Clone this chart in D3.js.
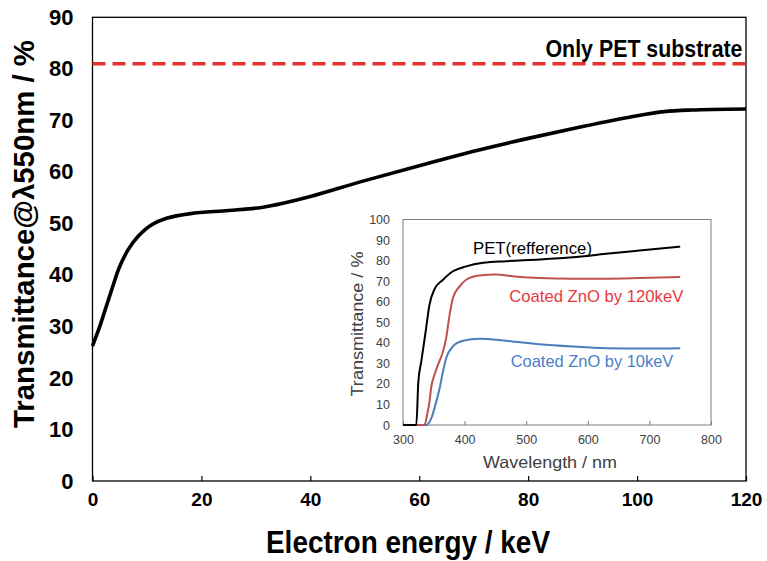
<!DOCTYPE html>
<html><head><meta charset="utf-8">
<script src="https://cdn.jsdelivr.net/npm/d3@7"></script>
<style>body{margin:0;background:#fff}svg{display:block}</style>
</head><body>
<svg id="c" width="767" height="561"></svg>
<script>
// ---- main chart data ----
const energyKeV = [0, 1.3, 2.5, 3.7, 4.9, 6.5, 8.3, 10.8, 13.6, 18, 25, 31, 35, 40, 50, 60, 70, 80, 90, 100, 105, 110, 120];
const transmittance550 = [26.2, 29.9, 33.8, 37.7, 41.4, 44.8, 47.4, 49.7, 51, 51.9, 52.5, 53.1, 53.9, 55.2, 58.3, 61.2, 64, 66.5, 68.8, 70.9, 71.7, 72, 72.2];
const petSubstrateLevel = 81;
const mainXTicks = [0, 20, 40, 60, 80, 100, 120];
const mainYTicks = [0, 10, 20, 30, 40, 50, 60, 70, 80, 90];

// ---- inset data ----
const wlPET = [300, 320, 321.6, 324.9, 329.7, 336.8, 343, 351, 365, 381, 402.7, 430, 467.6, 521.6, 575.7, 629.7, 683.8, 750];
const tPET  = [0, 0, 0, 21, 31, 45.5, 58.5, 66, 70.7, 74.8, 77.2, 78.9, 79.7, 80.5, 81.6, 83.3, 84.9, 86.8];
const wl120 = [300, 335, 339, 343, 346, 351, 356.8, 364.9, 370, 375.7, 381, 392, 402.7, 424, 451, 478, 521.6, 575.7, 629.7, 683.8, 750];
const t120  = [0, 0, 4.9, 11.4, 18.7, 24.4, 29.3, 35.8, 42.3, 53.7, 61.8, 67.5, 70.7, 72.8, 73.2, 72.4, 71.5, 71.2, 71.2, 71.5, 72];
const wl10  = [300, 337.8, 346, 351, 359.5, 364.9, 370, 381, 397.3, 424.3, 467.6, 521.6, 575.7, 629.7, 683.8, 750];
const t10   = [0, 0, 3.3, 8.1, 17.9, 26, 32.5, 38.2, 41, 42, 41, 39.3, 38.2, 37.4, 37.2, 37.4];
const insetXTicks = [300, 400, 500, 600, 700, 800];
const insetYTicks = [0, 10, 20, 30, 40, 50, 60, 70, 80, 90, 100];

const svg = d3.select("#c");
const x = d3.scaleLinear().domain([0, 120]).range([92.5, 746]);
const y = d3.scaleLinear().domain([0, 90]).range([481, 17.3]);

// frame
svg.append("rect").attr("x", x(0)).attr("y", y(90)).attr("width", x(120) - x(0)).attr("height", y(0) - y(90))
  .attr("fill", "none").attr("stroke", "#000").attr("stroke-width", 1.3);

// x axis ticks (inner) and labels
const xAxis = d3.axisBottom(x).tickValues(mainXTicks).tickSizeInner(-5).tickSizeOuter(0).tickPadding(12);
const gx = svg.append("g").attr("transform", `translate(0,${y(0)})`).call(xAxis);
gx.select(".domain").remove();
gx.selectAll(".tick line").attr("stroke", "#000").attr("stroke-width", 1.2);
gx.selectAll(".tick text").attr("font-family", "'Liberation Sans', Arial, sans-serif").attr("font-weight", "bold")
  .attr("font-size", 19).attr("fill", "#000").attr("dy", "0.71em");

const yAxis = d3.axisLeft(y).tickValues(mainYTicks).tickSize(0).tickPadding(19);
const gy = svg.append("g").attr("transform", `translate(${x(0)},0)`).call(yAxis);
gy.select(".domain").remove();
gy.selectAll(".tick text").attr("font-family", "'Liberation Sans', Arial, sans-serif").attr("font-weight", "bold")
  .attr("font-size", 22).attr("fill", "#000");

// dashed PET line
svg.append("line").attr("x1", x(0)).attr("x2", x(120)).attr("y1", y(petSubstrateLevel)).attr("y2", y(petSubstrateLevel))
  .attr("stroke", "#e8322f").attr("stroke-width", 3.5).attr("stroke-dasharray", "13,7");
svg.append("text").attr("x", 742.5).attr("y", 56.5).attr("text-anchor", "end")
  .attr("font-family", "'Liberation Sans Narrow', 'Liberation Sans', sans-serif").attr("font-weight", "bold")
  .attr("font-size", 24).attr("textLength", 197).attr("lengthAdjust", "spacingAndGlyphs").text("Only PET substrate");

// main curve
const mainLine = d3.line().x((d, i) => x(energyKeV[i])).y(d => y(d)).curve(d3.curveCatmullRom.alpha(0.5));
svg.append("path").datum(transmittance550).attr("d", mainLine).attr("fill", "none")
  .attr("stroke", "#000").attr("stroke-width", 3.6).attr("stroke-linejoin", "round");

// axis titles
svg.append("text").attr("x", 408).attr("y", 553).attr("text-anchor", "middle")
  .attr("font-family", "'Liberation Sans Narrow', 'Liberation Sans', sans-serif").attr("font-weight", "bold")
  .attr("font-size", 32).attr("textLength", 284).attr("lengthAdjust", "spacingAndGlyphs").text("Electron energy / keV");
svg.append("text").attr("transform", "translate(34,234) rotate(-90)").attr("text-anchor", "middle")
  .attr("font-family", "'Liberation Sans', Arial, sans-serif").attr("font-weight", "bold")
  .attr("font-size", 29).attr("textLength", 388).attr("lengthAdjust", "spacingAndGlyphs").text("Transmittance@λ550nm / %");

// ---- inset ----
const ix = d3.scaleLinear().domain([300, 800]).range([403, 711]);
const iy = d3.scaleLinear().domain([0, 100]).range([425, 219.5]);
const ins = svg.append("g");
ins.append("rect").attr("x", ix(300)).attr("y", iy(100)).attr("width", ix(800) - ix(300)).attr("height", iy(0) - iy(100))
  .attr("fill", "#fff").attr("stroke", "#7f7f7f").attr("stroke-width", 1);

const ixAxis = d3.axisBottom(ix).tickValues(insetXTicks).tickSizeInner(-4).tickSizeOuter(0).tickPadding(10);
const gix = ins.append("g").attr("transform", `translate(0,${iy(0)})`).call(ixAxis);
gix.select(".domain").remove();
gix.selectAll(".tick line").attr("stroke", "#7f7f7f");
gix.selectAll(".tick text").attr("font-family", "'Liberation Sans', Arial, sans-serif").attr("font-size", 12.5).attr("fill", "#404040");

const iyAxis = d3.axisLeft(iy).tickValues(insetYTicks).tickSize(0).tickPadding(13);
const giy = ins.append("g").attr("transform", `translate(${ix(300)},0)`).call(iyAxis);
giy.select(".domain").remove();
giy.selectAll(".tick text").attr("font-family", "'Liberation Sans', Arial, sans-serif").attr("font-size", 12.5).attr("fill", "#404040");

function insetLine(xs, ys, color) {
  const ln = d3.line().x((d, i) => ix(xs[i])).y(d => iy(d)).curve(d3.curveMonotoneX);
  ins.append("path").datum(ys).attr("d", ln).attr("fill", "none").attr("stroke", color).attr("stroke-width", 2);
}
insetLine(wl10, t10, "#4a7ebb");
insetLine(wl120, t120, "#c0504d");
insetLine(wlPET, tPET, "#000");

const lf = "'Liberation Sans', Arial, sans-serif";
ins.append("text").attr("x", 473).attr("y", 254).attr("font-family", lf).attr("font-size", 17)
  .attr("textLength", 119).attr("lengthAdjust", "spacingAndGlyphs").attr("fill", "#000").text("PET(refference)");
ins.append("text").attr("x", 509.3).attr("y", 301.7).attr("font-family", lf).attr("font-size", 17)
  .attr("textLength", 174).attr("lengthAdjust", "spacingAndGlyphs").attr("fill", "#e8383d").text("Coated ZnO by 120keV");
ins.append("text").attr("x", 510.7).attr("y", 366.7).attr("font-family", lf).attr("font-size", 17)
  .attr("textLength", 162.6).attr("lengthAdjust", "spacingAndGlyphs").attr("fill", "#4a7fc7").text("Coated ZnO by 10keV");

ins.append("text").attr("x", 550).attr("y", 468).attr("text-anchor", "middle").attr("font-family", lf).attr("font-size", 16.5)
  .attr("textLength", 134).attr("lengthAdjust", "spacingAndGlyphs").attr("fill", "#404040").text("Wavelength / nm");
ins.append("text").attr("transform", "translate(363,324) rotate(-90)").attr("text-anchor", "middle").attr("font-family", lf)
  .attr("font-size", 16.5).attr("textLength", 145).attr("lengthAdjust", "spacingAndGlyphs").attr("fill", "#404040").text("Transmittance / %");
</script>
</body></html>
